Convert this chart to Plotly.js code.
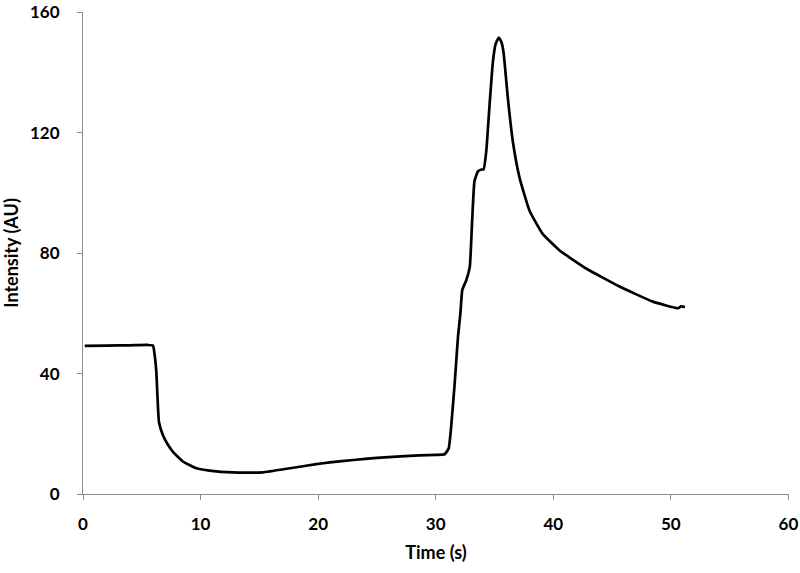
<!DOCTYPE html>
<html>
<head>
<meta charset="utf-8">
<script src="https://cdn.plot.ly/plotly-3.0.1.min.js"></script>
<style>html,body{margin:0;padding:0;background:#fff;}#chart{width:800px;height:573px;}</style>
</head>
<body>
<div id="chart"></div>
<script>
const timeS = [0.15, 2, 4, 5.5, 5.95, 6.1, 6.24, 6.46, 6.8, 7.2, 7.65, 8.5, 9.64, 11.34, 13.3, 15.3, 17.6, 19.85, 21, 23, 25, 27, 28.6, 30, 30.76, 31.1, 31.3, 31.6, 31.9, 32.1, 32.26, 32.6, 32.9, 33.1, 33.3, 33.6, 33.9, 34.07, 34.3, 34.58, 34.86, 35.1, 35.37, 35.6, 35.77, 36.14, 36.56, 37.13, 37.98, 39.1, 40.54, 42.8, 45.64, 48.47, 50.6, 50.88, 51.2];
const intensityAU = [49.2, 49.3, 49.4, 49.5, 49.3, 46, 40.4, 23.9, 19.5, 16.5, 14.0, 10.8, 8.55, 7.5, 7.1, 7.2, 8.55, 9.9, 10.5, 11.3, 12, 12.5, 12.8, 13, 13.2, 15.1, 21.7, 36, 52.4, 60, 67.8, 71, 75.5, 90.8, 104, 107.2, 107.8, 107.8, 113.8, 129.2, 143.4, 149.5, 151.6, 150, 146.7, 131.4, 117.1, 105.1, 94.1, 86.4, 80.9, 74.9, 68.9, 63.9, 61.7, 62.3, 62.1];
const xTicks = [0, 10, 20, 30, 40, 50, 60];
const yTicks = [0, 40, 80, 120, 160];

const axisColor = '#8c8c8c';
const fontFam = 'Lato, "Open Sans", sans-serif';

Plotly.newPlot('chart', [{
  x: timeS, y: intensityAU, type: 'scatter', mode: 'lines',
  line: {color: '#000000', width: 2.7, shape: 'spline', smoothing: 0.4},
  hoverinfo: 'skip', cliponaxis: false
}], {
  width: 800, height: 573,
  margin: {l: 83, r: 11, t: 12, b: 79},
  paper_bgcolor: '#ffffff', plot_bgcolor: '#ffffff',
  showlegend: false,
  font: {family: fontFam, size: 17, color: '#000', weight: 'bold'},
  xaxis: {
    range: [0, 60.05], tickvals: xTicks, ticktext: xTicks.map(String),
    showgrid: false, zeroline: false, showline: true, linecolor: axisColor, linewidth: 1,
    ticks: 'outside', ticklen: 5, tickcolor: axisColor, tickwidth: 1,
    tickfont: {family: fontFam, size: 17, color: '#000', weight: 'bold'},
    ticklabelstandoff: 10, ticklabeloverflow: 'allow',
    title: {text: 'Time (s)', font: {family: fontFam, size: 18, color: '#000', weight: 'bold'}, standoff: 12}
  },
  yaxis: {
    range: [0, 160.1], tickvals: yTicks, ticktext: yTicks.map(String),
    showgrid: false, zeroline: false, showline: true, linecolor: axisColor, linewidth: 1,
    ticks: 'outside', ticklen: 5, tickcolor: axisColor, tickwidth: 1,
    tickfont: {family: fontFam, size: 17, color: '#000', weight: 'bold'},
    ticklabelstandoff: 14, ticklabeloverflow: 'allow',
    title: {text: 'Intensity (AU)', font: {family: fontFam, size: 18, color: '#000', weight: 'bold'}, standoff: 10}
  }
}, {displayModeBar: false, staticPlot: true});
</script>
</body>
</html>
